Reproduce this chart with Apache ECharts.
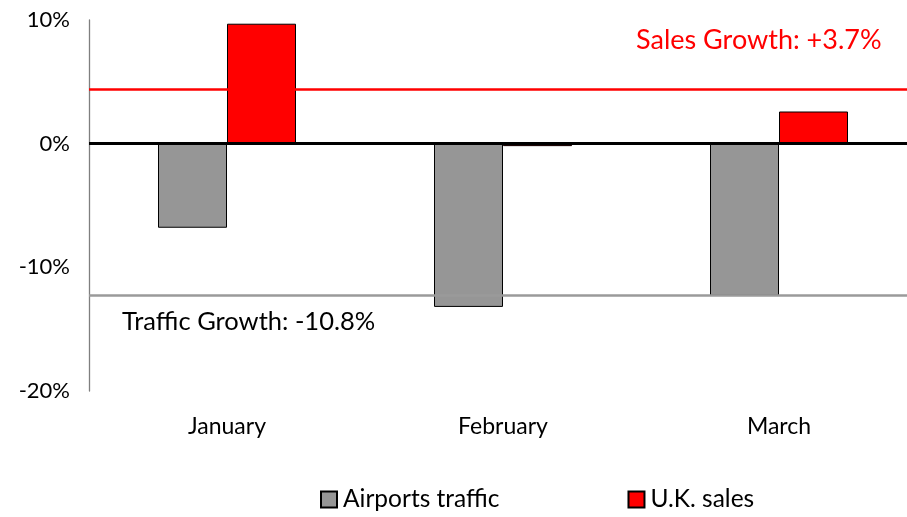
<!DOCTYPE html>
<html>
<head>
<meta charset="utf-8">
<script src="https://cdn.jsdelivr.net/npm/echarts@6/dist/echarts.min.js"></script>
<style>
  html, body { margin: 0; padding: 0; background: #fff; overflow: hidden; }
  #chart { width: 917px; height: 517px; }
</style>
</head>
<body>
<div id="chart"></div>
<script>
  var months = ['January', 'February', 'March'];
  var trafficVals = [-6.8, -13.2, -12.3];
  var salesVals = [9.7, -0.2, 2.6];
  var salesGrowthLine = 4.4;
  var trafficGrowthLine = -12.25;
  var yTicks = [-20, -10, 0, 10];

  var font = 'Lato';
  var chart = echarts.init(document.getElementById('chart'));

  var option = {
    backgroundColor: '#fff',
    animation: false,
    textStyle: { fontFamily: font },
    grid: { left: 89, top: 20, right: 0, height: 371 },
    legend: {
      left: 315,
      top: 482,
      icon: 'rect',
      itemWidth: 16,
      itemHeight: 16,
      itemGap: 128,
      textStyle: { fontSize: 24.5, color: '#000', fontFamily: font, padding: [0, 0, 0, 1] },
      data: ['Airports traffic', 'U.K. sales']
    },
    xAxis: {
      type: 'category',
      data: months,
      axisLine: { show: false, onZero: false },
      axisTick: { show: false },
      axisLabel: { color: '#000', fontSize: 23, margin: 24 }
    },
    yAxis: {
      type: 'value',
      min: yTicks[0],
      max: yTicks[yTicks.length - 1],
      interval: 10,
      splitLine: { show: false },
      axisTick: { show: false },
      axisLine: { show: true, lineStyle: { color: '#7f7f7f', width: 1.3 } },
      axisLabel: {
        color: '#000', fontSize: 22, margin: 19,
        formatter: function (v) { return v + '%'; }
      }
    },
    series: [
      {
        name: 'Airports traffic',
        type: 'bar',
        data: trafficVals,
        barWidth: '25%',
        barGap: '0%',
        itemStyle: { color: '#969696', borderColor: '#000', borderWidth: 1 },
        markLine: {
          symbol: 'none',
          silent: true,
          label: { show: false },
          data: [
            { yAxis: 0, lineStyle: { color: '#000', width: 3, type: 'solid' } },
            { yAxis: trafficGrowthLine, lineStyle: { color: '#9a9a9a', width: 2.5, type: 'solid' } }
          ]
        }
      },
      {
        name: 'U.K. sales',
        type: 'bar',
        data: salesVals,
        barWidth: '25%',
        itemStyle: { color: '#ff0000', borderColor: '#000', borderWidth: 1 },
        markLine: {
          symbol: 'none',
          silent: true,
          label: { show: false },
          data: [
            { yAxis: salesGrowthLine, lineStyle: { color: '#ff0000', width: 2.5, type: 'solid' } }
          ]
        }
      }
    ],
    graphic: [
      {
        type: 'text', left: 636, top: 27,
        style: { text: 'Sales Growth: +3.7%', fill: '#ff0000', font: '27px ' + font }
      },
      {
        type: 'text', left: 122, top: 309,
        style: { text: 'Traffic Growth: -10.8%', fill: '#000', font: '25.5px ' + font }
      }
    ]
  };

  chart.setOption(option);
</script>
</body>
</html>
